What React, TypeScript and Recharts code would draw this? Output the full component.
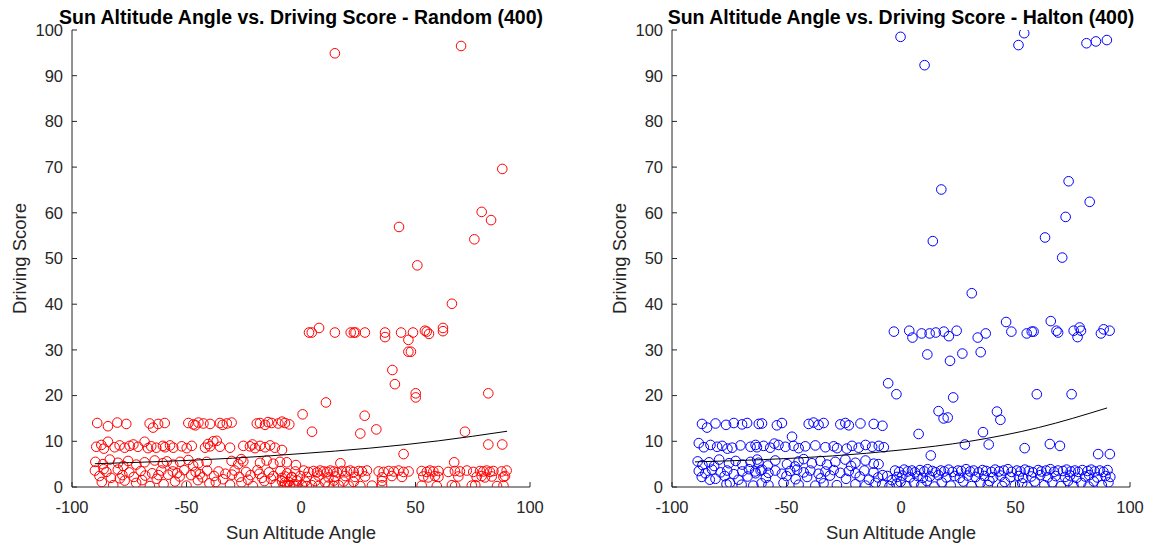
import { ScatterChart, Scatter, XAxis, YAxis, Label } from 'recharts';

// Tick values shared by both panels
const angleTicks = [-100, -50, 0, 50, 100];
const scoreTicks = [0, 10, 20, 30, 40, 50, 60, 70, 80, 90, 100];

// ---- Random (400) samples: [angle, score] ----
const randomRow14 = [
  [-89, 14], [-84.3, 13.3], [-80.2, 14.1], [-76.3, 13.8], [-66.1, 13.9], [-64.6, 13.0], [-62.4, 13.8],
  [-59.5, 14.0], [-49.2, 14], [-47, 13.7], [-44.8, 14.1], [-42.6, 13.9], [-39.7, 13.8], [-35.4, 14.0],
  [-32.4, 13.9], [-30.3, 14.1], [-19.3, 13.9], [-17.9, 14.0], [-15.7, 13.6], [-12.8, 14.0], [-9.9, 13.9],
  [-7, 14.0], [-8.3, 14.3], [-5.1, 13.7], [-46.1, 13.5], [-34.2, 13.6], [-14.4, 14.2],
];
const randomRow9 = [
  [-89.4, 8.8], [-87.2, 9.2], [-84.3, 9.9], [-81.4, 8.7], [-79.2, 9.1], [-77, 8.6], [-74.8, 9.0], [-71.2, 8.8],
  [-68.3, 9.9], [-65.4, 8.9], [-63.2, 8.6], [-60.3, 9.0], [-59.4, 8.7], [-57.2, 9.1], [-55.8, 8.6], [-52.1, 8.9],
  [-49.9, 8.5], [-47.7, 9.0], [-41.9, 8.6], [-39.7, 8.9], [-38.3, 10.0], [-36.8, 10.1], [-35.4, 8.8], [-31, 8.6],
  [-25.2, 9.0], [-22.3, 8.9], [-20.1, 8.5], [-17.9, 9.0], [-15.7, 8.7], [-13.5, 9.1], [-11.4, 8.6], [-8.3, 8.1],
  [-86.1, 8.4], [-73.2, 9.3], [-66.8, 8.5], [-40.6, 9.4], [-21.2, 9.3],
];
const randomRow5 = [
  [-89.8, 5.5], [-86.5, 5.0], [-83.5, 6.0], [-79.9, 5.3], [-75.5, 5.7], [-71.9, 4.9], [-68.3, 5.4], [-63.9, 5.8],
  [-60.3, 5.2], [-58.6, 5.6], [-55.8, 4.9], [-52.8, 5.5], [-49.2, 5.9], [-44.8, 5.2], [-41.2, 5.5], [-30.3, 5.7],
  [-27.4, 5.0], [-25.2, 5.6], [-17.9, 5.3], [-15, 5.8], [-12.1, 5.1], [-9.2, 5.5], [-6.2, 5.4], [-2.2, 4.8],
  [-77.6, 4.6], [-47.1, 4.7], [-26.1, 6.1],
];
const randomLowNeg = [
  [-90, 3.6], [-88, 2.4], [-87, 1.1], [-85, 3.3], [-83, 2.0], [-82, 0.4], [-80, 3.8], [-78, 2.6], [-77, 1.4],
  [-75, 3.2], [-73, 2.2], [-72, 0.9], [-70, 3.5], [-68, 2.5], [-66, 0.2], [-65, 3.0], [-63, 1.8], [-61, 3.6],
  [-60, 0.6], [-58, 2.7], [-56, 3.4], [-55, 1.2], [-53, 2.3], [-51, 3.7], [-50, 0.3], [-48, 2.6], [-46, 3.3],
  [-45, 1.5], [-43, 2.1], [-41, 3.6], [-40, 0.8], [-38, 2.4], [-36, 3.4], [-34, 1.7], [-33, 2.9], [-31, 0.5],
  [-29, 3.6], [-27, 2.2], [-26, 1.0], [-24, 3.3], [-22, 2.6], [-21, 0.2], [-19, 3.7], [-17, 2.0], [-16, 1.3],
  [-14, 3.2], [-12, 2.4], [-11, 0.6], [-9, 3.5], [-8.3, 2.0], [-7, 1.0], [-6, 3.0], [-5, 0.3], [-4, 2.2], [-3, 0.6],
  [-86.2, 3.9], [-79.1, 1.9], [-69.4, 1.5], [-62.2, 2.6], [-54.1, 3.0], [-44.2, 2.8], [-37.2, 1.1], [-30.1, 2.7],
  [-23.1, 1.6], [-18.2, 2.9], [-13.1, 1.8],
];
const randomLowPos = [
  [-2.5, 3.4], [1.2, 3.6], [3.3, 3.3], [5.5, 3.5], [7, 3.2], [8.4, 3.6], [9.9, 3.4], [11.4, 3.3], [12.8, 3.6],
  [14.3, 3.4], [15.7, 3.2], [17.9, 3.5], [20.1, 3.4], [21.5, 3.6], [23, 3.3], [25.2, 3.5], [26.6, 3.4], [28.8, 3.6],
  [33.9, 3.4], [36.1, 3.3], [38.3, 3.5], [40.5, 3.4], [42.6, 3.6], [44.8, 3.3], [47, 3.4], [52.7, 3.5], [54.9, 3.3],
  [56.3, 3.6], [57.8, 3.4], [60, 3.5], [64.3, 3.3], [67.2, 3.5], [69.4, 3.4], [72.4, 3.6], [75.2, 3.3], [78.2, 3.5],
  [79.6, 3.4], [81.1, 3.6], [82.5, 3.3], [84, 3.5], [87.6, 3.4], [89.8, 3.6],
  [-6.9, 2.3], [-4, 2.1], [-0.4, 2.4], [2.5, 2.2], [7.6, 2.5], [12, 2.1], [14.9, 2.3], [19.3, 2.4], [23.6, 2.2],
  [28, 2.3], [35.4, 2.1], [39.7, 2.4], [44.1, 2.2], [53.4, 2.3], [55.6, 2.1], [58.5, 2.4], [60, 2.2], [68.7, 2.3],
  [76.7, 2.2], [78.9, 2.4], [80.3, 2.1], [83.3, 2.3], [88.4, 2.2], [89.1, 2.4],
  [-8.3, 1.3], [-5.4, 1.1], [-1.8, 1.4], [1.8, 1.2], [6.2, 1.3], [10.6, 1.0], [14.3, 1.4], [18.6, 1.2], [23, 1.1],
  [35.4, 1.3],
  [-7.6, 0.3], [-6.1, 0.2], [-4.7, 0.4], [-2.5, 0.2], [0.4, 0.3], [2.5, 0.2], [4.7, 0.4], [7.6, 0.2], [12, 0.3],
  [14.3, 0.2], [16.4, 0.4], [20.8, 0.3], [25.9, 0.2], [31, 0.3], [35.4, 0.4], [52.7, 0.3], [59.3, 0.2], [65.9, 0.4],
  [67.3, 0.2], [74.6, 0.3], [76.1, 0.4], [85.6, 0.2], [88.4, 0.3],
];
const randomUpper = [
  [14.8, 94.9], [69.9, 96.5], [87.9, 69.6], [78.9, 60.2], [83, 58.4], [75.7, 54.2], [42.8, 56.9], [50.8, 48.5],
  [65.9, 40.1], [3.5, 33.8], [4.7, 33.8], [7.9, 34.8], [14.8, 33.8], [21.7, 33.8], [23.1, 33.8], [23.8, 33.8],
  [27.9, 33.8], [36.7, 33.8], [36.7, 32.8], [43.7, 33.8], [48.9, 33.8], [54.1, 34.2], [54.9, 34.0], [55.9, 33.5],
  [62, 34.8], [62, 34.1], [46.9, 32.2], [46.9, 29.6], [48, 29.6], [39.9, 25.6], [41, 22.5], [50.1, 20.5],
  [50.1, 19.6], [81.8, 20.5], [10.9, 18.5], [0.7, 15.9], [27.8, 15.6], [4.8, 12.1], [25.9, 11.7], [32.9, 12.6],
  [44.8, 7.2], [71.6, 12.1], [81.8, 9.3], [87.9, 9.3], [66.9, 5.4], [17.2, 5.2],
];
const randomFit = [[-90, 5.1], [-60, 5.6], [-30, 6.3], [0, 7.3], [30, 8.5], [60, 10.1], [90, 12.2]];

// ---- Halton (400) samples: [angle, score] ----
const haltonRow14 = [
  [-86.9, 13.8], [-84.7, 13.0], [-81, 13.9], [-76.4, 13.6], [-73, 14.0], [-69.4, 13.7], [-67.2, 14.0],
  [-62.1, 13.8], [-60.7, 13.9], [-54.2, 13.5], [-52, 14.0], [-40.3, 13.8], [-38.2, 14.1], [-36, 13.6],
  [-33.8, 14.0], [-26.5, 13.7], [-24.3, 14.0], [-22.8, 13.5], [-17.7, 13.9], [-11.9, 13.8], [-8.1, 13.4],
  [-47.6, 11.0],
];
const haltonRow9 = [
  [-88.3, 9.6], [-86.1, 8.7], [-83.2, 9.2], [-80.3, 8.8], [-78.1, 9.0], [-73.7, 8.6], [-70.1, 9.1], [-65.7, 8.8],
  [-63.5, 9.2], [-62.9, 8.7], [-60, 9.0], [-57.1, 8.6], [-53.5, 9.2], [-50.5, 8.8], [-46.9, 9.0], [-44.7, 8.5],
  [-41.8, 8.9], [-37.4, 9.1], [-33, 8.7], [-29.4, 8.9], [-27.9, 8.5], [-21.4, 9.0], [-18.5, 8.6], [-15.5, 9.2],
  [-12.6, 8.8], [-9.7, 9.0], [-7.5, 8.7], [-75.8, 8.4], [-55.3, 9.5], [-23.7, 8.4],
];
const haltonRow5 = [
  [-88.8, 5.6], [-86.7, 4.8], [-83.8, 5.4], [-79.4, 6.0], [-75.1, 5.2], [-72.2, 5.7], [-69.3, 4.9], [-65.7, 5.5],
  [-62.8, 6.0], [-62.2, 5.3], [-54.9, 5.8], [-49.8, 5.0], [-44.7, 5.6], [-42.5, 6.1], [-38.9, 5.2], [-35.2, 5.7],
  [-32.3, 4.9], [-28.7, 5.5], [-24.3, 6.0], [-19.9, 5.3], [-15.5, 5.8], [-11.9, 5.1], [-9.8, 5.0],
  [-81.6, 4.6], [-58.2, 4.7], [-46.3, 4.5], [-21.8, 4.6],
];
const haltonLowNeg = [
  [-88.3, 3.5], [-85.4, 3.0], [-82.5, 3.8], [-78.8, 3.2], [-75.9, 3.6], [-73, 2.8], [-69.3, 3.4], [-66.4, 3.9],
  [-63.5, 3.0], [-61.3, 3.6], [-63.7, 3.4], [-60.7, 3.8], [-57.9, 3.1], [-54.9, 3.6], [-52, 2.9], [-48.4, 3.5],
  [-45.4, 3.8], [-42.5, 3.2], [-39.6, 3.6], [-36, 2.9], [-33, 3.4], [-29.4, 3.7], [-26.5, 3.1], [-22.8, 3.5],
  [-19.9, 3.0], [-16, 3.6], [-12, 3.2], [-8, 2.6],
  [-87, 2.2], [-81, 1.8], [-77, 2.4], [-71, 1.6], [-67, 2.3], [-59, 2.0], [-50, 2.4], [-46, 1.7], [-41, 2.2],
  [-35, 1.9], [-31, 2.5], [-24, 1.8], [-18, 2.3], [-14, 1.6], [-10, 2.1], [-6, 2.4], [-4, 1.5],
  [-83.5, 1.6], [-76.2, 0.6], [-74.7, 0.9], [-69.6, 0.5], [-64.5, 0.3], [-60.9, 0.8], [-57.9, 0.4], [-51.3, 0.9],
  [-44.7, 0.5], [-37.4, 0.3], [-33.8, 0.8], [-28, 0.4], [-19.9, 0.6], [-15.5, 0.3], [-11.1, 0.9], [-8.2, 0.5],
  [-5, 0.2], [-2, 0.7],
];
const haltonLowPos = [
  [-2.6, 3.6], [-0.8, 3.3], [1.4, 3.8], [2.9, 3.4], [4.8, 3.6], [6.1, 3.2], [8.3, 3.7], [10.2, 3.4], [11.6, 3.9],
  [13.7, 3.5], [15.1, 3.2], [17.4, 3.6], [18.9, 3.4], [20.8, 3.8], [22.5, 3.3], [24.9, 3.6], [26.3, 3.5],
  [28.4, 3.9], [30.2, 3.4], [31.7, 3.6], [33.9, 3.2], [35.6, 3.7], [37.2, 3.5], [39.5, 3.3], [41.1, 3.8],
  [42.8, 3.4], [44.9, 3.6], [46.7, 3.9], [48.3, 3.3], [50.6, 3.6], [52.2, 3.4], [54.1, 3.8], [55.8, 3.5],
  [57.6, 3.2], [59.9, 3.7], [61.3, 3.4], [63.4, 3.6], [65.2, 3.9], [66.8, 3.3], [68.5, 3.6], [70.7, 3.5],
  [72.3, 3.8], [74.1, 3.4], [75.9, 3.6], [77.4, 3.3], [79.2, 3.7], [81.5, 3.5], [83.1, 3.8], [84.6, 3.4],
  [86.8, 3.6], [88.4, 3.3], [90.2, 3.7],
  [-1.7, 2.2], [0.6, 2.5], [3.8, 2.1], [7.2, 2.4], [9.5, 2.0], [12.6, 2.3], [16.3, 2.6], [19.8, 2.1], [23.4, 2.4],
  [25.7, 2.0], [29.1, 2.5], [32.6, 2.2], [36.4, 2.4], [40.2, 2.1], [43.5, 2.5], [47.8, 2.2], [51.4, 2.4],
  [53.3, 2.0], [56.9, 2.3], [60.8, 2.6], [64.1, 2.1], [67.5, 2.4], [71.6, 2.2], [73.8, 2.5], [76.6, 2.0],
  [80.4, 2.3], [82.2, 2.6], [85.7, 2.1], [89.3, 2.4], [91.4, 2.2],
  [-0.2, 1.1], [5.7, 0.9], [11.3, 1.3], [17.8, 1.0], [27.2, 1.2], [34.7, 0.9], [38.6, 1.3], [45.3, 1.1],
  [52.9, 0.8], [58.4, 1.2], [66.1, 1.0], [72.9, 1.3], [78.7, 0.9], [84.2, 1.2], [90.6, 1.0],
  [2.3, 0.2], [8.9, 0.4], [14.6, 0.1], [21.7, 0.3], [30.8, 0.2], [37.9, 0.4], [44.2, 0.2], [49.7, 0.3],
  [55.1, 0.1], [62.6, 0.4], [69.8, 0.2], [75.3, 0.3], [81.9, 0.1], [87.7, 0.4],
];
const haltonUpper = [
  [-0.2, 98.5], [10.3, 92.3], [53.8, 99.3], [51.3, 96.7], [81, 97.1], [85.1, 97.5], [89.9, 97.8], [17.6, 65.1],
  [73.2, 66.9], [82.4, 62.4], [71.9, 59.1], [13.9, 53.8], [62.9, 54.6], [70.4, 50.2], [30.9, 42.4],
  [-3.1, 34.0], [3.6, 34.2], [5.0, 32.7], [9.0, 33.6], [12.5, 33.6], [15.2, 33.8], [18.7, 34.0], [20.9, 33.0],
  [24.3, 34.2], [33.5, 32.7], [37, 33.6], [45.9, 36.1], [48.2, 34.0], [54.9, 33.6], [57.1, 34.0], [57.9, 34.0],
  [65.4, 36.3], [67.9, 34.2], [68.6, 33.8], [75.4, 34.2], [77.1, 32.8], [78, 34.9], [78.6, 34.2], [87.3, 33.6],
  [88.5, 34.5], [91.1, 34.2],
  [11.5, 29.0], [21.4, 27.6], [26.8, 29.2], [34.8, 29.5], [-5.6, 22.7], [-2.0, 20.3], [22.8, 19.6], [59.3, 20.3],
  [74.5, 20.3], [16.4, 16.6], [18.6, 15.0], [20.4, 15.2], [41.9, 16.5], [43.4, 14.7], [7.7, 11.6], [35.8, 12.0],
  [27.9, 9.3], [38.3, 9.3], [13.0, 6.9], [54, 8.5], [65, 9.4], [69.4, 9.0], [86.1, 7.2], [91.2, 7.2],
];
const haltonFit = [[-90, 5.5], [-60, 6.0], [-30, 6.8], [0, 8.1], [30, 10.0], [60, 13.0], [90, 17.3]];

const toPoints = (rows: number[][]) => rows.map(([angle, score]) => ({ angle, score }));

const FONT = '"Liberation Sans", Arial, sans-serif';
const AXIS = '#262626';

interface PanelProps {
  title: string;
  points: number[][][];
  fit: number[][];
  color: string;
  left: number;
}

function Panel({ title, points, fit, color, left }: PanelProps) {
  const samples = toPoints(points.flat());
  return (
    <div style={{ position: 'absolute', left, top: 0, width: 560, height: 550 }}>
      <ScatterChart width={560} height={550} margin={{ top: 30, right: 30, bottom: 7, left: 0 }}>
        <XAxis
          type="number"
          dataKey="angle"
          domain={[-100, 100]}
          ticks={angleTicks}
          allowDataOverflow
          height={56}
          tickSize={-5}
          tickMargin={19}
          axisLine={{ stroke: AXIS }}
          tickLine={{ stroke: AXIS }}
          tick={{ fill: AXIS, fontSize: 16.5, fontFamily: FONT }}
        >
          <Label value="Sun Altitude Angle" position="insideBottom" offset={4} fill={AXIS} fontSize={18.5} fontFamily={FONT} />
        </XAxis>
        <XAxis
          xAxisId="top"
          orientation="top"
          type="number"
          domain={[-100, 100]}
          ticks={angleTicks}
          allowDataOverflow
          height={0}
          tickSize={-5}
          tickFormatter={() => ''}
          axisLine={{ stroke: AXIS }}
          tickLine={{ stroke: AXIS }}
        />
        <YAxis
          type="number"
          dataKey="score"
          domain={[0, 100]}
          ticks={scoreTicks}
          allowDataOverflow
          width={72}
          tickSize={-5}
          tickMargin={14}
          axisLine={{ stroke: AXIS }}
          tickLine={{ stroke: AXIS }}
          tick={{ fill: AXIS, fontSize: 16.5, fontFamily: FONT }}
        >
          <Label
            content={(props: any) => {
              const vb = props.viewBox;
              const cx = vb.x + 19;
              const cy = vb.y + vb.height / 2;
              return (
                <text
                  x={cx}
                  y={cy}
                  transform={`rotate(-90 ${cx} ${cy})`}
                  textAnchor="middle"
                  dominantBaseline="central"
                  fill={AXIS}
                  fontSize={18.5}
                  fontFamily={FONT}
                >
                  Driving Score
                </text>
              );
            }}
          />
        </YAxis>
        <YAxis
          yAxisId="right"
          orientation="right"
          type="number"
          domain={[0, 100]}
          ticks={scoreTicks}
          allowDataOverflow
          width={0}
          tickSize={-5}
          tickFormatter={() => ''}
          axisLine={{ stroke: AXIS }}
          tickLine={{ stroke: AXIS }}
        />
        <Scatter
          data={samples}
          isAnimationActive={false}
          shape={(p: any) => <circle cx={p.cx} cy={p.cy} r={4.8} fill="none" stroke={color} strokeWidth={1} />}
        />
        <Scatter
          data={toPoints(fit)}
          isAnimationActive={false}
          line={{ stroke: '#000', strokeWidth: 1 }}
          lineType="joint"
          lineJointType="monotoneX"
          shape={() => <g />}
        />
      </ScatterChart>
      <svg width={560} height={30} style={{ position: 'absolute', left: 0, top: 0 }}>
        <text x={301} y={24} textAnchor="middle" fontWeight="bold" fontSize={19.5} fontFamily={FONT} fill="#000">
          {title}
        </text>
      </svg>
    </div>
  );
}

export default function App() {
  return (
    <div style={{ position: 'absolute', left: 0, top: 0, width: 1157, height: 550, background: '#fff', overflow: 'hidden', fontFamily: FONT }}>
      <Panel
        title="Sun Altitude Angle vs. Driving Score - Random (400)"
        points={[randomRow14, randomRow9, randomRow5, randomLowNeg, randomLowPos, randomUpper]}
        fit={randomFit}
        color="#ff0000"
        left={0}
      />
      <Panel
        title="Sun Altitude Angle vs. Driving Score - Halton (400)"
        points={[haltonRow14, haltonRow9, haltonRow5, haltonLowNeg, haltonLowPos, haltonUpper]}
        fit={haltonFit}
        color="#0000ff"
        left={600}
      />
    </div>
  );
}
